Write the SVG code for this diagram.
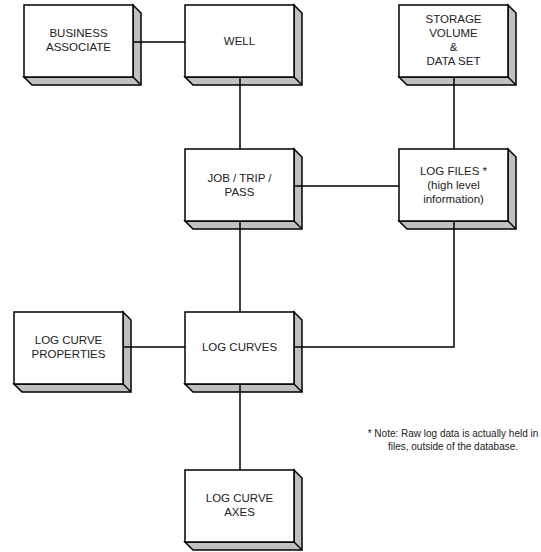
<svg xmlns="http://www.w3.org/2000/svg" xmlns:xlink="http://www.w3.org/1999/xlink" width="541" height="552" viewBox="0 0 541 552">
<style>
.side{fill:#c0c0c0;stroke:#000;stroke-width:1.5;stroke-linejoin:miter}
.face{fill:#fff;stroke:#000;stroke-width:1.5}
.lbl{font-family:"Liberation Sans",Arial,sans-serif;font-size:11.5px;fill:#222;text-anchor:middle}
.note{font-family:"Liberation Sans",Arial,sans-serif;font-size:10px;fill:#222;text-anchor:middle}
.conn{fill:none;stroke:#000;stroke-width:1.5}
</style>
<defs>
<g id="box">
<polygon class="side" points="109,0 117,8 117,80 8,80 0,72 109,72"/>
<line x1="109" y1="72" x2="117" y2="80" stroke="#000" stroke-width="1.5"/>
<rect class="face" x="0" y="0" width="109" height="72"/>
</g>
</defs>
<rect width="541" height="552" fill="#fff"/>
<g id="business-associate">
<use xlink:href="#box" x="24" y="5"/>
<text class="lbl" x="78.5" y="37">BUSINESS</text>
<text class="lbl" x="78.5" y="51">ASSOCIATE</text>
</g>
<g id="well">
<use xlink:href="#box" x="185" y="5"/>
<text class="lbl" x="239.5" y="45">WELL</text>
</g>
<g id="storage-volume">
<use xlink:href="#box" x="399" y="5"/>
<text class="lbl" x="453.5" y="23">STORAGE</text>
<text class="lbl" x="453.5" y="37">VOLUME</text>
<text class="lbl" x="453.5" y="51">&amp;</text>
<text class="lbl" x="453.5" y="65">DATA SET</text>
</g>
<g id="job-trip-pass">
<use xlink:href="#box" x="185" y="149"/>
<text class="lbl" x="239.5" y="182">JOB / TRIP /</text>
<text class="lbl" x="239.5" y="196">PASS</text>
</g>
<g id="log-files">
<use xlink:href="#box" x="399" y="149"/>
<text class="lbl" x="453.5" y="175">LOG FILES *</text>
<text class="lbl" x="453.5" y="189">(high level</text>
<text class="lbl" x="453.5" y="203">information)</text>
</g>
<g id="log-curve-properties">
<use xlink:href="#box" x="14" y="312"/>
<text class="lbl" x="68.5" y="344">LOG CURVE</text>
<text class="lbl" x="68.5" y="358">PROPERTIES</text>
</g>
<g id="log-curves">
<use xlink:href="#box" x="185" y="312"/>
<text class="lbl" x="239.5" y="351">LOG CURVES</text>
</g>
<g id="log-curve-axes">
<use xlink:href="#box" x="185" y="470"/>
<text class="lbl" x="239.5" y="502">LOG CURVE</text>
<text class="lbl" x="239.5" y="516">AXES</text>
</g>
<g id="connectors">
<path class="conn" d="M133,42 H185"/>
<path class="conn" d="M240,77 V149"/>
<path class="conn" d="M454,77 V149"/>
<path class="conn" d="M294,186 H399"/>
<path class="conn" d="M240,221 V312"/>
<path class="conn" d="M123,347 H185"/>
<path class="conn" d="M294,347 H454 V221"/>
<path class="conn" d="M240,384 V470"/>
</g>
<g id="note">
<text class="note" x="453" y="437">* Note: Raw log data is actually held in</text>
<text class="note" x="453" y="450">files, outside of the database.</text>
</g>
</svg>
